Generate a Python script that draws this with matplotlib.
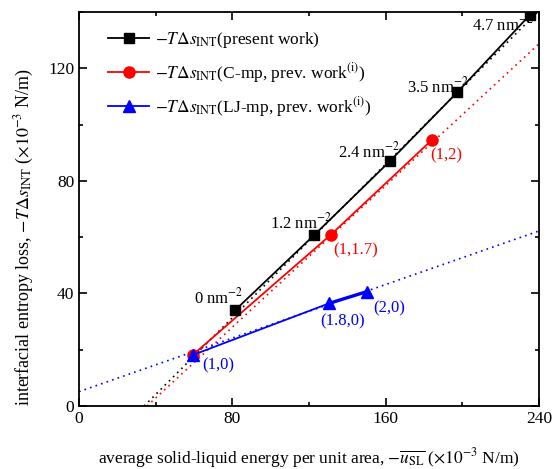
import numpy as np
import matplotlib
matplotlib.use("Agg")
import matplotlib.pyplot as plt
from matplotlib.ticker import MultipleLocator

plt.rcParams['font.family'] = ['Liberation Serif', 'DejaVu Serif']
plt.rcParams['mathtext.fontset'] = 'stix'
plt.rcParams['font.size'] = 12.5

# present work (black squares)
black_x = [81.4, 122.8, 162.2, 197.4, 235.3]
black_y = [34.0, 60.8, 87.0, 111.5, 139.0]
black_labels = ['0 nm$^{-2}$', '1.2 nm$^{-2}$', '2.4 nm$^{-2}$', '3.5 nm$^{-2}$', '4.7 nm$^{-2}$']
black_label_pos = [(60, 38.7), (99.7, 65.4), (135.1, 90.3), (171.1, 113.4), (205, 135.7)]

# C-mp (red circles)
red_x = [59.3, 131.3, 184.2]
red_y = [18.1, 60.8, 94.6]
red_labels = ['', '(1,1.7)', '(1,2)']
red_label_pos = [None, (132.5, 55.4), (183.1, 89.2)]

# LJ-mp (blue triangles)
blue_x = [59.3, 130.6, 150.0]
blue_y = [18.1, 36.5, 40.6]
blue_labels = ['(1,0)', '(1.8,0)', '(2,0)']
blue_label_pos = [(64.2, 14.6), (125.7, 30.0), (153.4, 34.8)]

# dotted trend lines (end points)
black_fit_x = [34.0, 240.0]
black_fit_y = [0.0, 140.5]
red_fit_x = [35.5, 240.0]
red_fit_y = [0.0, 128.7]
blue_fit_x = [0.0, 240.0]
blue_fit_y = [5.1, 62.2]

fig = plt.figure(figsize=(5.54, 4.69), dpi=100)
ax = fig.add_axes([79/554, 63/469, 460/554, 394/469])

dots = (0, (1, 2.5))
ax.plot(black_fit_x, black_fit_y, color='black', lw=1.2, ls=dots)
ax.plot(red_fit_x, red_fit_y, color='red', lw=1.2, ls=dots)
ax.plot(blue_fit_x, blue_fit_y, color='blue', lw=1.2, ls=dots)

ax.plot(red_x, red_y, '-o', color='red', lw=1.3, ms=8, label=r'$-T\Delta s_{\rm INT}$(C-mp, prev. work$^{\rm (i)}$)')
ax.plot(blue_x, blue_y, '-^', color='blue', lw=1.3, ms=8, label=r'$-T\Delta s_{\rm INT}$(LJ-mp, prev. work$^{\rm (i)}$)')
ax.plot(blue_x[1:], blue_y[1:], '-', color='blue', lw=2.4)
ax.plot(black_x, black_y, '-s', color='black', lw=1.3, ms=6.5, label=r'$-T\Delta s_{\rm INT}$(present work)')

for lab, pos in zip(black_labels, black_label_pos):
    ax.text(pos[0], pos[1], lab, color='black', ha='left', va='center', fontsize=12)
for lab, pos in zip(red_labels, red_label_pos):
    if pos is not None:
        ax.text(pos[0], pos[1], lab, color='red', ha='left', va='center', fontsize=12)
for lab, pos in zip(blue_labels, blue_label_pos):
    ax.text(pos[0], pos[1], lab, color='blue', ha='left', va='center', fontsize=12)

ax.set_xlim(0, 240)
ax.set_ylim(0, 140)
ax.xaxis.set_major_locator(MultipleLocator(80))
ax.xaxis.set_minor_locator(MultipleLocator(40))
ax.yaxis.set_major_locator(MultipleLocator(40))
ax.yaxis.set_minor_locator(MultipleLocator(20))
ax.tick_params(which='both', direction='in', top=True, right=True, width=1.2)
ax.tick_params(which='major', length=6)
ax.tick_params(which='minor', length=3)
for s in ax.spines.values():
    s.set_linewidth(1.3)

ax.set_xlabel(r'average solid-liquid energy per unit area, $-\overline{u_{\rm SL}}$ ($\times 10^{-3}$ N/m)', labelpad=14)
ax.set_ylabel(r'interfacial entropy loss, $-T\Delta s_{\rm INT}$ ($\times 10^{-3}$ N/m)', fontsize=13)
ax.yaxis.set_label_coords(-0.093, 0.43)

h, l = ax.get_legend_handles_labels()
order = [2, 0, 1]
ax.legend([h[i] for i in order], [l[i] for i in order], loc='upper left', frameon=False,
          handlelength=2.4, labelspacing=0.6, handletextpad=0.3,
          bbox_to_anchor=(0.04, 0.98), borderaxespad=0.2)

fig.savefig('out.png', dpi=100)
